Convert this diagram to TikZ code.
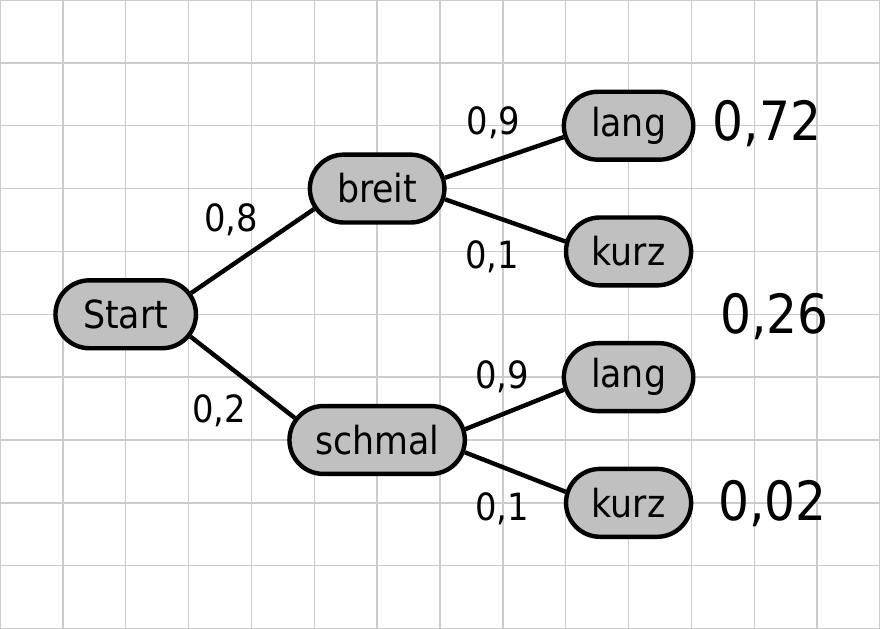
\documentclass[tikz,border=0pt]{standalone}
\usepackage{fontspec}
\setmainfont{DejaVu Sans Condensed}
\usepackage{xcolor}
\usetikzlibrary{shapes.misc}
\definecolor{knotengrau}{RGB}{192,192,192}
\definecolor{gitter}{RGB}{204,204,204}

\begin{document}
\begin{tikzpicture}[
  font=\fontsize{17.5}{20}\selectfont,
  knoten/.style={draw, rounded rectangle, fill=knotengrau, line width=2pt, minimum height=1.08cm, minimum width=#1, inner xsep=0pt, inner ysep=0pt,
    execute at begin node={\hbox to #1\bgroup\hss}, execute at end node={\hss\egroup}},
  ast/.style={line width=2pt},
  wkt/.style={font=\fontsize{17}{20}\selectfont, inner sep=0pt},
  erg/.style={font=\fontsize{24.5}{28}\selectfont, inner sep=0pt}
]
\useasboundingbox (0,0) rectangle (14,-10);
\draw[gitter, line width=0.7pt] (0,0) grid (14,-10);

\node[knoten=2.13cm] (start) at (2,-5) {Start};
\node[knoten=2.03cm] (breit) at (6,-3) {breit};
\node[knoten=2.68cm] (schmal) at (6,-7) {schmal};
\node[knoten=1.88cm] (breitlang) at (10,-2) {lang};
\node[knoten=1.88cm] (breitkurz) at (10,-4) {kurz};
\node[knoten=1.88cm] (schmallang) at (10,-6) {lang};
\node[knoten=1.88cm] (schmalkurz) at (10,-8) {kurz};

\draw[ast] (start.18) -- (breit.198);
\draw[ast] (start.-19) -- (schmal.165);
\draw[ast] (breit.9) -- (breitlang.190);
\draw[ast] (breit.-9) -- (breitkurz.171);
\draw[ast] (schmal.7) -- (schmallang.191);
\draw[ast] (schmal.-8) -- (schmalkurz.170);

% Wahrscheinlichkeiten an den Aesten
\node[wkt] (p08) at (3.68,-3.50) {0,8};
\node[wkt] (p02) at (3.49,-6.53) {0,2};
\node[wkt] (p09a) at (7.85,-1.96) {0,9};
\node[wkt] (p01a) at (7.83,-4.09) {0,1};
\node[wkt] (p09b) at (7.99,-6.0) {0,9};
\node[wkt] (p01b) at (7.99,-8.09) {0,1};

% Ergebnisse
\node[erg] (e1) at (12.2,-1.97) {0,72};
\node[erg] (e2) at (12.32,-5.03) {0,26};
\node[erg] (e3) at (12.29,-8.01) {0,02};
\end{tikzpicture}
\end{document}
